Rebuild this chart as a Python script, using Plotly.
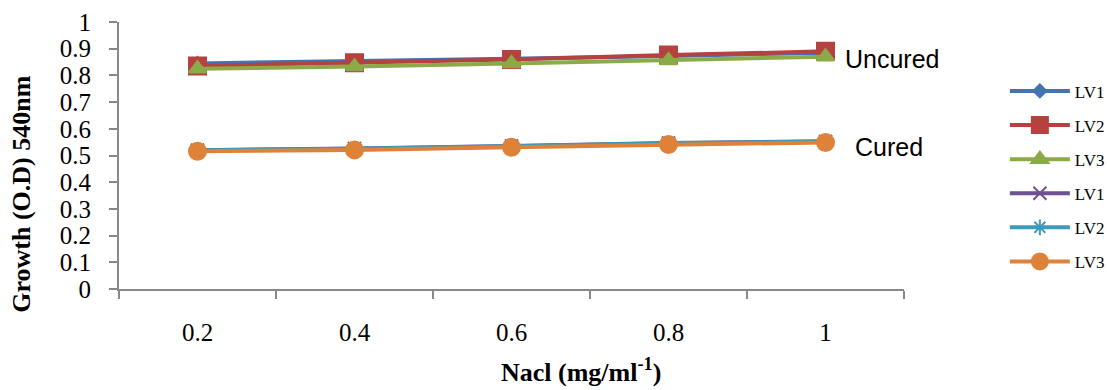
import plotly.graph_objects as go

categories = ["0.2", "0.4", "0.6", "0.8", "1"]
uncured_lv1 = [0.845, 0.852, 0.862, 0.873, 0.885]
uncured_lv2 = [0.835, 0.847, 0.860, 0.876, 0.890]
uncured_lv3 = [0.825, 0.833, 0.845, 0.856, 0.870]
cured_lv1 = [0.520, 0.526, 0.536, 0.547, 0.553]
cured_lv2 = [0.519, 0.525, 0.535, 0.546, 0.552]
cured_lv3 = [0.516, 0.521, 0.531, 0.541, 0.549]

series = [
    ("LV1", uncured_lv1, "#4472B4", "diamond", 10),
    ("LV2", uncured_lv2, "#B5423F", "square", 17),
    ("LV3", uncured_lv3, "#8BAA48", "triangle-up", 15),
    ("LV1", cured_lv1, "#6F5092", "x-thin-open", 13),
    ("LV2", cured_lv2, "#3C9CB8", "asterisk-open", 13),
    ("LV3", cured_lv3, "#DE823A", "circle", 17),
]

fig = go.Figure()
for i, (name, vals, color, sym, size) in enumerate(series):
    fig.add_trace(go.Scatter(
        x=categories, y=vals, name=name, mode="lines+markers",
        line=dict(color=color, width=4),
        marker=dict(symbol=sym, size=size, color=color,
                    line=dict(color=color, width=2)),
        legendgroup=f"g{i}",
    ))

serif = "Liberation Serif, Times New Roman, serif"
sans = "Liberation Sans, Arial, sans-serif"
fig.update_layout(
    width=1107, height=390,
    margin=dict(l=119, r=203, t=22, b=101, autoexpand=False),
    paper_bgcolor="white", plot_bgcolor="white",
    showlegend=True,
    legend=dict(x=1.1285, y=0.8075, xanchor="left", yanchor="top",
                font=dict(family=serif, size=17, color="black"),
                tracegroupgap=9, itemwidth=60, bgcolor="rgba(0,0,0,0)"),
    xaxis=dict(type="category", range=[-0.5, 4.5], showgrid=False,
               automargin=False,
               showline=True, linecolor="#888888", linewidth=2,
               ticks="outside", tickson="boundaries", ticklen=8,
               tickcolor="#888888", tickwidth=2,
               tickfont=dict(family=serif, size=25, color="black"),
               ticklabelstandoff=20),
    yaxis=dict(range=[0, 1], dtick=0.1, showgrid=False, zeroline=False,
               automargin=False,
               showline=True, linecolor="#888888", linewidth=2,
               ticks="outside", ticklen=8, tickcolor="#888888", tickwidth=2,
               tickformat="~g",
               tickfont=dict(family=serif, size=25, color="black"),
               ticklabelstandoff=13),
    annotations=[
        dict(text="<b>Growth (O.D) 540nm</b>", xref="paper", yref="paper",
             x=(22 - 119) / 785, y=(289 - 195) / 266.3, textangle=-90,
             xanchor="center", yanchor="middle", showarrow=False,
             font=dict(family=serif, size=26, color="black")),
        dict(text="<b>Nacl (mg/ml<sup>-1</sup>)</b>", xref="paper", yref="paper",
             x=(581 - 119) / 785, y=(289 - 370) / 266.3,
             xanchor="center", yanchor="middle", showarrow=False,
             font=dict(family=serif, size=26, color="black")),
        dict(text="Uncured", xref="paper", yref="paper",
             xanchor="left", yanchor="middle",
             x=(843 - 119) / 785, y=(289 - 60) / 266.3, showarrow=False,
             font=dict(family=sans, size=25, color="black")),
        dict(text="Cured", xref="paper", yref="paper",
             xanchor="left", yanchor="middle",
             x=(853 - 119) / 785, y=(289 - 147) / 266.3, showarrow=False,
             font=dict(family=sans, size=25, color="black")),
    ],
)

fig.write_html("out.html")
